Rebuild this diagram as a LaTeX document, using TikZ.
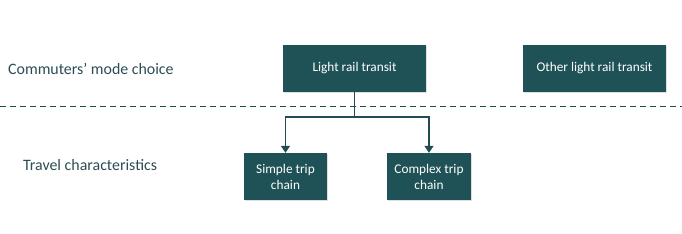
\documentclass[tikz,border=0pt]{standalone}
\usepackage{fontspec}
\setmainfont{Carlito}
\usetikzlibrary{arrows.meta,shadows}
\definecolor{boxfill}{HTML}{1F5257}
\definecolor{labeltext}{HTML}{2A4D52}
\definecolor{lineclr}{HTML}{1F4D52}
\tikzset{
  box/.style={draw=none, fill=boxfill, text=white, font=\fontsize{13.3}{16}\selectfont, align=center, inner sep=0pt,
    drop shadow={shadow xshift=1pt, shadow yshift=-1pt, opacity=0.25}},
  rowlabel/.style={text=labeltext, font=\fontsize{15.9}{18}\selectfont, anchor=west, inner sep=0pt},
  conn/.style={draw=lineclr, line width=1.3pt},
  arr/.style={conn, -{Triangle[length=7pt, width=9pt]}}
}
\begin{document}
\begin{tikzpicture}[x=1pt, y=-1pt]
\useasboundingbox (0,0) rectangle (682,233);
\node[box, minimum width=143pt, minimum height=47pt] (lrt) at (354.5,68.5) {Light rail transit};
\node[box, minimum width=143pt, minimum height=47pt] (olrt) at (594.5,68.5) {Other light rail transit};
\node[box, minimum width=83pt, minimum height=47pt] (simple) at (285.5,176.5) {Simple trip\\chain};
\node[box, minimum width=84pt, minimum height=47pt] (complex) at (429,176.5) {Complex trip\\chain};
\node[rowlabel] (mode) at (8,69) {Commuters’ mode choice};
\node[rowlabel] (travel) at (23,165) {Travel characteristics};
\coordinate (dl) at (0,106.5);
\coordinate (dr) at (682,106.5);
\draw[draw=lineclr, line width=1pt, dash pattern=on 6pt off 4pt] (dl) -- (dr);
\coordinate (junc) at (354.5,117);
\draw[conn] (lrt.south) -- (junc);
\draw[arr] (junc) -| (simple.north);
\draw[arr] (junc) -| (complex.north);
\end{tikzpicture}
\end{document}
